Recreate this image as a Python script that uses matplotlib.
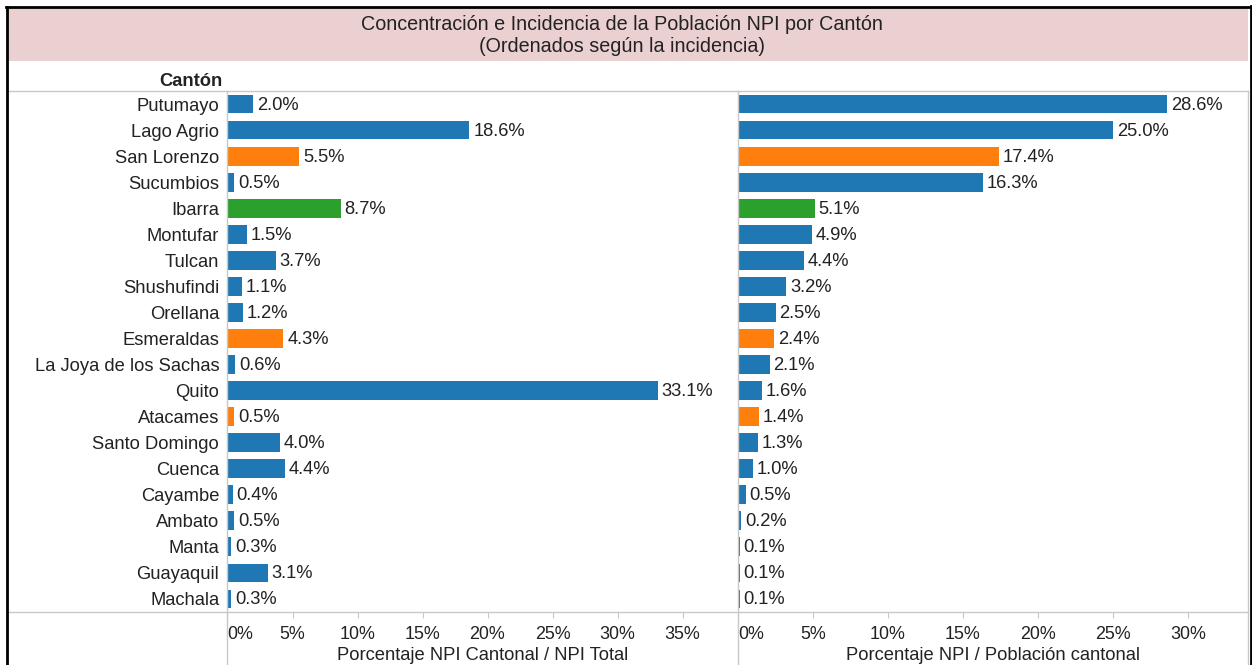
import matplotlib
matplotlib.use("Agg")
import matplotlib.pyplot as plt
from matplotlib.lines import Line2D
from matplotlib.patches import Rectangle
import numpy as np

plt.rcParams['font.family'] = ['Liberation Sans', 'DejaVu Sans']

# ---------------- data ----------------
cantones = ["Putumayo", "Lago Agrio", "San Lorenzo", "Sucumbios", "Ibarra", "Montufar",
            "Tulcan", "Shushufindi", "Orellana", "Esmeraldas", "La Joya de los Sachas",
            "Quito", "Atacames", "Santo Domingo", "Cuenca", "Cayambe", "Ambato",
            "Manta", "Guayaquil", "Machala"]
concentracion = [2.0, 18.6, 5.5, 0.5, 8.7, 1.5, 3.7, 1.1, 1.2, 4.3, 0.6,
                 33.1, 0.5, 4.0, 4.4, 0.4, 0.5, 0.3, 3.1, 0.3]
incidencia = [28.6, 25.0, 17.4, 16.3, 5.1, 4.9, 4.4, 3.2, 2.5, 2.4, 2.1,
              1.6, 1.4, 1.3, 1.0, 0.5, 0.2, 0.1, 0.1, 0.1]
grupo = ["b", "b", "o", "b", "g", "b", "b", "b", "b", "o", "b",
         "b", "o", "b", "b", "b", "b", "b", "b", "b"]
ticks_left = [0, 5, 10, 15, 20, 25, 30, 35]
ticks_right = [0, 5, 10, 15, 20, 25, 30]
titulo = "Concentración e Incidencia de la Población NPI por Cantón\n(Ordenados según la incidencia)"
xlabel_left = "Porcentaje NPI Cantonal / NPI Total"
xlabel_right = "Porcentaje NPI / Población cantonal"
header = "Cantón"

palette = {"b": "#1f77b4", "o": "#ff7f0e", "g": "#2ca02c"}
colors = [palette[g] for g in grupo]

W, H = 1252, 665
fig = plt.figure(figsize=(W / 100, H / 100), dpi=100)
fig.patch.set_facecolor("white")


def fx(x):
    return x / W


def fy(y):
    return 1 - y / H


FS = 13.2
FS_TICK = 12.9
FS_TITLE = 14.2
TXT = "#222222"
GRID = "#c8c8c8"

x_l0, x_split, x_r1 = 227.5, 738.0, 1247.5
y_top, y_bot = 91.0, 612.0
n = len(cantones)
ypos = np.arange(n)


def make_axes(x0, x1, ppu, values, ticks, show_names):
    ax = fig.add_axes([fx(x0), fy(y_bot), (x1 - x0) / W, (y_bot - y_top) / H])
    ax.set_xlim(0, (x1 - x0) / ppu)
    ax.set_ylim(n - 0.5, -0.5)
    ax.barh(ypos, values, height=0.72, color=colors, edgecolor="none")
    for yi, v in zip(ypos, values):
        ax.annotate(f"{v:.1f}%", xy=(v, yi), xytext=(4, -1), textcoords="offset pixels",
                    va="center", ha="left", fontsize=FS, color=TXT)
    for s in ax.spines.values():
        s.set_visible(False)
    ax.set_xticks(ticks)
    ax.set_xticklabels([f"{t}%" for t in ticks])
    ax.tick_params(axis="x", length=4, color=GRID, pad=6, labelsize=FS_TICK, labelcolor=TXT)
    ax.xaxis.get_major_ticks()[0].label1.set_horizontalalignment("left")
    ax.set_yticks(ypos)
    if show_names:
        ax.set_yticklabels(cantones)
        ax.tick_params(axis="y", length=0, pad=6, labelsize=FS, labelcolor=TXT)
    else:
        ax.set_yticklabels([])
        ax.tick_params(axis="y", length=0)
    ax.patch.set_alpha(0)
    return ax


axL = make_axes(x_l0, x_split, 13.0, concentracion, ticks_left, True)
axR = make_axes(x_split, x_r1, 15.0, incidencia, ticks_right, False)

# axis titles
fig.text(fx((x_l0 + x_split) / 2), fy(655), xlabel_left, ha="center", va="center",
         fontsize=FS, color=TXT)
fig.text(fx((x_split + x_r1) / 2), fy(655), xlabel_right, ha="center", va="center",
         fontsize=FS, color=TXT)

# header
fig.text(fx(222), fy(81), header, ha="right", va="center", fontsize=FS,
         fontweight="bold", color=TXT)

# title band
fig.add_artist(Rectangle((fx(8), fy(61)), fx(1248) - fx(8), fy(8) - fy(61),
                         transform=fig.transFigure, facecolor="#ebd0d1", edgecolor="none",
                         zorder=0))
for line_txt, yc in zip(titulo.split("\n"), [24, 46]):
    fig.text(fx(622), fy(yc), line_txt, ha="center", va="center", fontsize=FS_TITLE,
             color=TXT)

# grid / frame lines
def line(x0, y0, x1, y1, c=GRID, lw=1.0):
    fig.add_artist(Line2D([fx(x0), fx(x1)], [fy(y0), fy(y1)], color=c, lw=lw,
                          transform=fig.transFigure))

line(8, y_top, x_r1, y_top)
line(8, y_bot, x_r1, y_bot)
line(x_l0, y_top, x_l0, H)
line(x_split, y_top, x_split, H)
line(x_r1, y_top, x_r1, H)

# outer black border
line(7, 7, 7, H, c="black", lw=2.0)
line(6, 7, 1251, 7, c="black", lw=2.0)
line(1250.5, 6, 1250.5, H, c="black", lw=2.0)

fig.savefig("out.png", dpi=100)
